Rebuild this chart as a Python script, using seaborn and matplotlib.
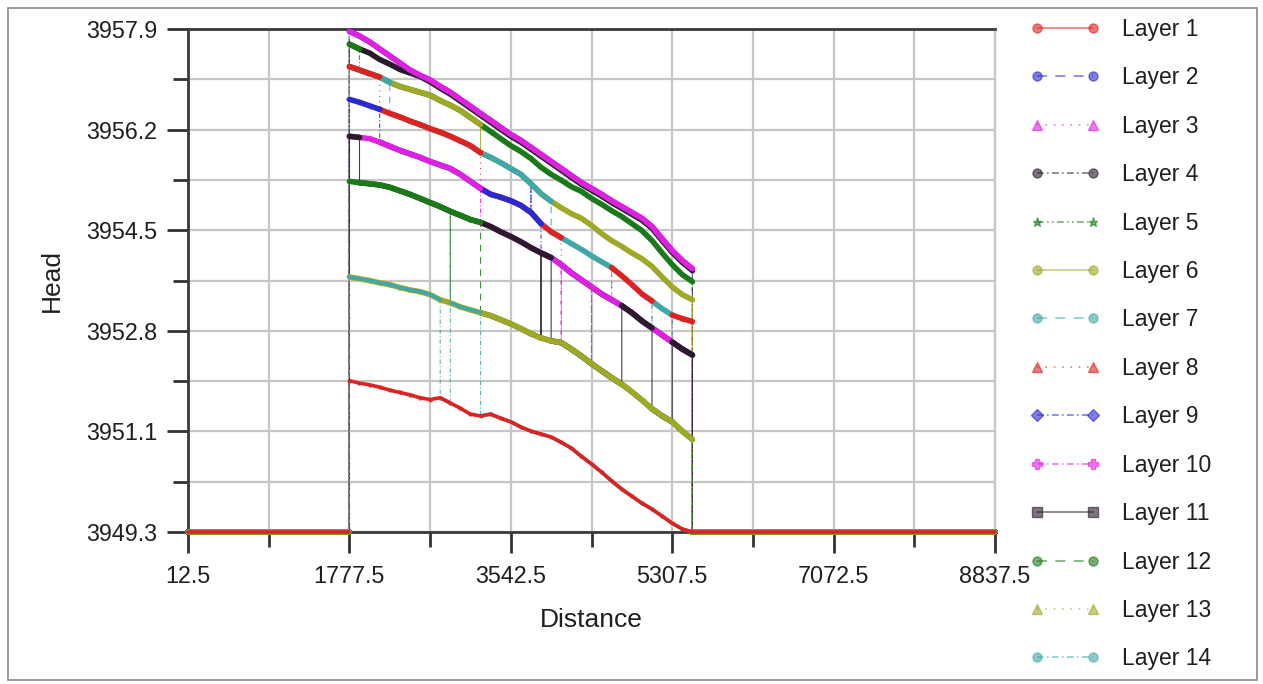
import numpy as np
import pandas as pd
import matplotlib
matplotlib.use("Agg")
import matplotlib.pyplot as plt
from matplotlib.patches import Rectangle
from matplotlib.ticker import AutoMinorLocator, FormatStrFormatter
import seaborn as sns

sns.set_theme(style="white")
plt.rcParams["font.family"] = ["Liberation Sans", "DejaVu Sans"]

# cell-centre distances along the section (m)
distance = np.linspace(12.5, 8837.5, 81)
first_wet, last_wet = 16, 50          # first and last wet cell index
dry_head = 3949.34                    # head written for dry cells

# head levels (m) of the wet cells, one value per cell from 1777.5 m downstream
band_a = [3957.88, 3957.80, 3957.70, 3957.58, 3957.46, 3957.34, 3957.22, 3957.13, 3957.05,
          3956.94, 3956.84, 3956.72, 3956.60, 3956.48, 3956.36, 3956.24, 3956.12, 3956.02,
          3955.90, 3955.78, 3955.66, 3955.54, 3955.42, 3955.30, 3955.20, 3955.10, 3954.99,
          3954.89, 3954.79, 3954.69, 3954.55, 3954.34, 3954.14, 3953.97, 3953.83]
band_b = [3957.66, 3957.58, 3957.51, 3957.40, 3957.32, 3957.23, 3957.17, 3957.11, 3957.02,
          3956.91, 3956.81, 3956.69, 3956.57, 3956.45, 3956.33, 3956.21, 3956.09, 3955.99,
          3955.87, 3955.75, 3955.63, 3955.51, 3955.39, 3955.27, 3955.17, 3955.07, 3954.96,
          3954.86, 3954.76, 3954.66, 3954.52, 3954.31, 3954.11, 3953.94, 3953.80]
band_c = [3957.28, 3957.22, 3957.16, 3957.10, 3957.01, 3956.94, 3956.89, 3956.84, 3956.79,
          3956.70, 3956.62, 3956.53, 3956.41, 3956.29, 3956.17, 3956.05, 3955.93, 3955.83,
          3955.71, 3955.56, 3955.44, 3955.34, 3955.23, 3955.15, 3955.03, 3954.93, 3954.82,
          3954.72, 3954.60, 3954.48, 3954.31, 3954.10, 3953.90, 3953.73, 3953.61]
band_d = [3956.72, 3956.67, 3956.61, 3956.55, 3956.48, 3956.42, 3956.35, 3956.29, 3956.22,
          3956.16, 3956.09, 3956.01, 3955.93, 3955.81, 3955.73, 3955.64, 3955.54, 3955.44,
          3955.28, 3955.11, 3954.98, 3954.87, 3954.77, 3954.69, 3954.57, 3954.43, 3954.31,
          3954.21, 3954.10, 3954.00, 3953.87, 3953.69, 3953.52, 3953.39, 3953.30]
band_e = [3956.09, 3956.07, 3956.05, 3955.99, 3955.92, 3955.85, 3955.79, 3955.73, 3955.66,
          3955.60, 3955.54, 3955.44, 3955.32, 3955.20, 3955.10, 3955.05, 3954.99, 3954.91,
          3954.79, 3954.60, 3954.46, 3954.36, 3954.26, 3954.16, 3954.05, 3953.95, 3953.85,
          3953.71, 3953.56, 3953.40, 3953.28, 3953.15, 3953.04, 3952.98, 3952.93]
band_f = [3955.32, 3955.30, 3955.28, 3955.26, 3955.22, 3955.16, 3955.10, 3955.03, 3954.96,
          3954.89, 3954.81, 3954.74, 3954.67, 3954.62, 3954.55, 3954.46, 3954.38, 3954.29,
          3954.19, 3954.10, 3954.02, 3953.90, 3953.76, 3953.64, 3953.52, 3953.40, 3953.30,
          3953.20, 3953.08, 3952.94, 3952.82, 3952.70, 3952.58, 3952.46, 3952.36]
band_g = [3953.69, 3953.66, 3953.63, 3953.59, 3953.56, 3953.51, 3953.47, 3953.44, 3953.39,
          3953.30, 3953.25, 3953.18, 3953.13, 3953.08, 3953.03, 3952.96, 3952.89, 3952.81,
          3952.72, 3952.65, 3952.60, 3952.57, 3952.46, 3952.34, 3952.21, 3952.09, 3951.97,
          3951.86, 3951.73, 3951.59, 3951.44, 3951.32, 3951.22, 3951.06, 3950.92]
band_h = [3951.92, 3951.88, 3951.85, 3951.81, 3951.76, 3951.72, 3951.68, 3951.63, 3951.60,
          3951.63, 3951.54, 3951.45, 3951.35, 3951.32, 3951.35, 3951.28, 3951.22, 3951.13,
          3951.06, 3951.01, 3950.96, 3950.87, 3950.77, 3950.63, 3950.50, 3950.36, 3950.21,
          3950.07, 3949.95, 3949.83, 3949.73, 3949.61, 3949.49, 3949.39, 3949.34]
bands = {"A": band_a, "B": band_b, "C": band_c, "D": band_d,
         "E": band_e, "F": band_f, "G": band_g, "H": band_h}

layers = [f"Layer {i}" for i in range(1, 15)]

# level followed by each layer: (first wet cell, level) pairs
layer_levels = {
    "Layer 1": [(0, "H")],
    "Layer 2": [(0, "A")],
    "Layer 3": [(0, "A")],
    "Layer 4": [(0, "B")],
    "Layer 5": [(0, "B"), (1, "C")],
    "Layer 6": [(0, "C"), (13, "D")],
    "Layer 7": [(0, "C"), (4, "D"), (20, "E"), (26, "F"), (30, "E"), (32, "F")],
    "Layer 8": [(0, "C"), (3, "D"), (13, "E"), (21, "F"), (26, "E"), (30, "F"), (32, "E")],
    "Layer 9": [(0, "D"), (3, "E"), (19, "F")],
    "Layer 10": [(0, "E"), (13, "F")],
    "Layer 11": [(0, "E"), (1, "F"), (20, "G"), (27, "F"), (30, "G"), (32, "F")],
    "Layer 12": [(0, "F"), (13, "G")],
    "Layer 13": [(0, "G")],
    "Layer 14": [(0, "G"), (9, "H"), (10, "G"), (13, "H")],
}
# single cells where a layer takes the head of another level
layer_cells = {
    "Layer 9": [(18, "D")],
    "Layer 10": [(21, "G"), (24, "G")],
    "Layer 11": [(19, "G")],
    "Layer 12": [(10, "G")],
}

base_colors = ["#dd2222", "#2a2ad0", "#e020e0", "#2a1a2a", "#1a7a1a", "#a0a828", "#40a8a8"]
layer_colors = {name: base_colors[i % 7] for i, name in enumerate(layers)}
layer_dashes = {
    "Layer 1": "", "Layer 2": (6, 5), "Layer 3": (1, 4), "Layer 4": (4, 2, 1, 2),
    "Layer 5": (4, 2, 1, 2, 1, 2), "Layer 6": "", "Layer 7": (6, 5), "Layer 8": (1, 4),
    "Layer 9": (4, 2, 1, 2), "Layer 10": (4, 2, 1, 2), "Layer 11": "", "Layer 12": (6, 5),
    "Layer 13": (1, 4), "Layer 14": (4, 2, 1, 2),
}
layer_markers = {
    "Layer 1": "o", "Layer 2": "o", "Layer 3": "^", "Layer 4": "o", "Layer 5": "*",
    "Layer 6": "o", "Layer 7": "o", "Layer 8": "^", "Layer 9": "D", "Layer 10": "P",
    "Layer 11": "s", "Layer 12": "o", "Layer 13": "^", "Layer 14": "o",
}

# build each layer's profile: dry cells, wet cells on their level, dry cells
records = []
n_wet = last_wet - first_wet + 1
for name in layers:
    starts = dict(layer_levels[name])
    cells = dict(layer_cells.get(name, []))
    run = 0

    def add(x, y, r, thick):
        records.append({"layer": name, "distance": x, "head": y, "run": r, "thick": thick})

    for j in range(first_wet + 1):
        add(distance[j], dry_head, run, True)
    prev = None
    for k in range(n_wet):
        x = distance[first_wet + k]
        cur = starts.get(k, prev)
        if prev is None:
            run += 1
        elif cur != prev:
            add(x, bands[prev][k], run, True)
            run += 1
        add(x, bands[cur][k], run, True)
        if k in cells:
            add(x, bands[cells[k]][k], -1, False)
            add(x, bands[cur][k], -1, False)
        prev = cur
    run += 1
    add(distance[last_wet], dry_head, run, True)
    for j in range(last_wet + 1, len(distance)):
        add(distance[j], dry_head, run, True)

df = pd.DataFrame(records)

fig = plt.figure(figsize=(12.63, 6.84), dpi=100)
ax = fig.add_axes([188 / 1263, 1 - 532 / 684, (995 - 188) / 1263, (532 - 29) / 684])

# thin styled profiles (carry the legend)
sns.lineplot(data=df, x="distance", y="head", hue="layer", style="layer",
             hue_order=layers, style_order=layers, palette=layer_colors,
             dashes=layer_dashes, markers=layer_markers, sort=False, estimator=None,
             lw=0.8, markersize=3.5, mew=0.4, alpha=0.85, ax=ax, zorder=2)

# heavy traces along each level (dense cell markers merge into a band)
thick = df[df["thick"]]
draw_order = ["Layer 2", "Layer 4", "Layer 3", "Layer 5", "Layer 6", "Layer 7", "Layer 8",
              "Layer 9", "Layer 10", "Layer 11", "Layer 12", "Layer 13", "Layer 14", "Layer 1"]
for i, name in enumerate(draw_order):
    sub = thick[thick["layer"] == name]
    lw = 2.6 if name in ("Layer 1", "Layer 14") else 4.0
    sns.lineplot(data=sub, x="distance", y="head", units="run", estimator=None, sort=False,
                 color=layer_colors[name], lw=lw, legend=False, ax=ax,
                 zorder=3 + i * 0.01, clip_on=False, solid_capstyle="round")

# axes
ax.set_xlim(12.5, 8837.5)
ax.set_ylim(3949.34, 3957.92)
ax.set_xticks(np.arange(12.5, 8838, 1765))
ax.set_yticks(np.linspace(3949.34, 3957.92, 6))
ax.xaxis.set_minor_locator(AutoMinorLocator(2))
ax.yaxis.set_minor_locator(AutoMinorLocator(2))
ax.xaxis.set_major_formatter(FormatStrFormatter("%.1f"))
ax.yaxis.set_major_formatter(FormatStrFormatter("%.1f"))
ax.set_axisbelow(True)
ax.grid(which="both", color="#c6c6c6", lw=1.6)
ax.tick_params(which="both", direction="out", color="#333333", width=2.0,
               left=True, bottom=True, labelsize=16.8, labelcolor="#1f1f1f")
ax.tick_params(which="major", length=15, pad=7)
ax.tick_params(which="minor", length=10.5)
ax.tick_params(axis="x", which="major", pad=9)
for side in ("left", "bottom", "top"):
    ax.spines[side].set_color("#3a3a3a")
    ax.spines[side].set_linewidth(2.0)
ax.spines["right"].set_color("#c6c6c6")
ax.spines["right"].set_linewidth(1.6)

ax.set_xlabel("Distance", fontsize=19, color="#1f1f1f", labelpad=14)
ax.set_ylabel("Head", fontsize=19, color="#1f1f1f", labelpad=16)

sns.move_legend(ax, "upper left", bbox_to_anchor=(1030 / 1263, 0.974),
                bbox_transform=fig.transFigure, frameon=False, title=None,
                fontsize=16.5, handlelength=3.05, handletextpad=0.95, labelspacing=1.11,
                numpoints=2, borderaxespad=0, borderpad=0)
leg = ax.get_legend()
for h in leg.legend_handles:
    h.set_linewidth(1.2)
    h.set_markersize(6.5)
    h.set_markeredgecolor(h.get_color())
    h.set_markeredgewidth(1.0)
    h.set_alpha(0.6)
for t in leg.get_texts():
    t.set_color("#1f1f1f")

# outer frame of the figure
fig.add_artist(Rectangle((8 / 1263, 4 / 684), (1257 - 8) / 1263, (680 - 8) / 684,
                         transform=fig.transFigure, fill=False, ec="#8a8a8a", lw=1.2))

fig.savefig("out.png", dpi=100)
